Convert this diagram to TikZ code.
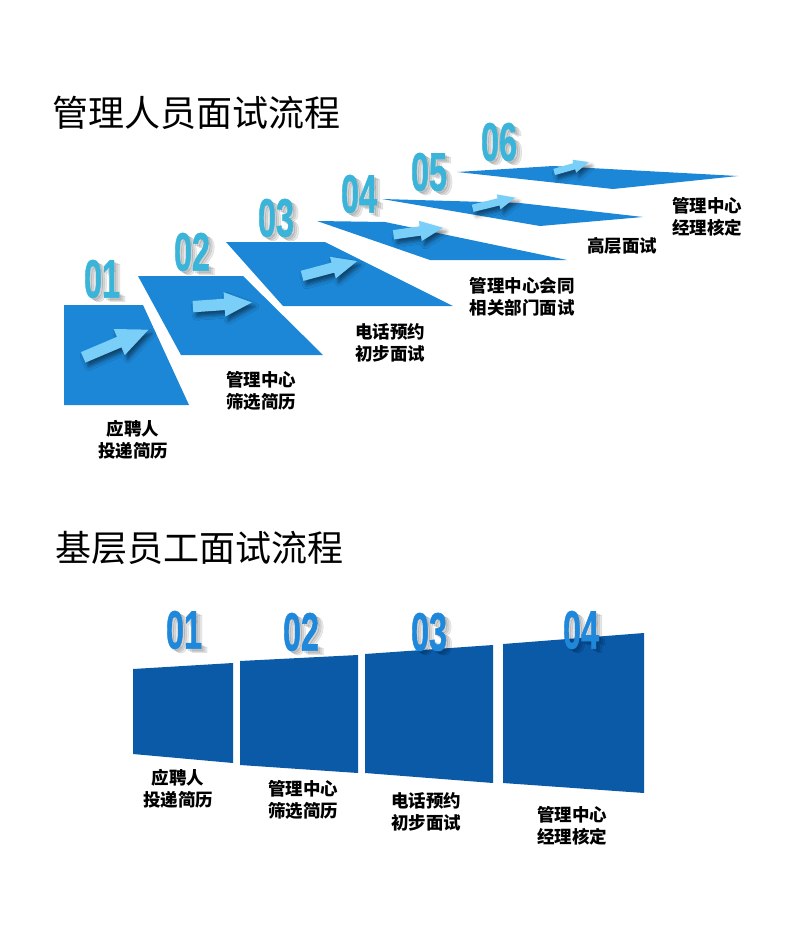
\documentclass[tikz,border=0pt]{standalone}
\usepackage{fontspec}
\usepackage{graphicx}
\setmainfont{Noto Sans CJK SC}
\newfontfamily\numfont[FakeBold=1.2]{Liberation Sans Bold}
\usetikzlibrary{shapes.arrows, shadows.blur}
\definecolor{cplate}{HTML}{1C87D7}
\definecolor{cplatedark}{HTML}{0A5AA8}
\definecolor{cnum}{HTML}{3AB4D8}
\definecolor{cnumdark}{HTML}{1F88DB}
\definecolor{carrow}{HTML}{7ACFF9}
\tikzset{
  every picture/.style={x=1pt, y=-1pt},
  plate/.style={fill=#1},
  plate/.default=cplate,
  title/.style={font=\fontsize{36}{40}\selectfont, anchor=west, inner sep=0pt},
  steptext/.style={font=\bfseries\fontsize{17.5}{22}\selectfont, align=center, inner sep=0pt},
  num/.style={font=\numfont\fontsize{54}{54}\selectfont, text=#1, inner sep=0pt},
  num/.default=cnum,
  numshade/.style={font=\numfont\fontsize{54}{54}\selectfont, text=black, opacity=0.09, inner sep=0pt},
  flowarrow/.style={single arrow, fill=carrow, inner xsep=0pt, single arrow head indent=0pt,
    single arrow tip angle=48,
    blur shadow={shadow xshift=3pt, shadow yshift=-4pt, shadow blur radius=4pt, shadow opacity=50}},
}
\newcommand{\nm}[1]{\scalebox{0.6}[1]{#1}}

\begin{document}
\begin{tikzpicture}
  \useasboundingbox (0,0) rectangle (800,950);
  % manager interview
  \node[title] (t1) at (52,113) {管理人员面试流程};
  \fill[plate] (64,305) -- (143,305) -- (189,405) -- (64,405) -- cycle;
  \fill[plate] (138,276) -- (243,276) -- (323,355) -- (181,355) -- cycle;
  \fill[plate] (226,242) -- (325,242) -- (453,306) -- (283,306) -- cycle;
  \fill[plate] (317,221) -- (385,222) -- (567,260) -- (430,260) -- cycle;
  \fill[plate] (382,199) -- (520,203) -- (643,217) -- (540,226) -- cycle;
  \fill[plate] (457,172) -- (553,166) -- (738,176) -- (613,189) -- cycle;
  \node[flowarrow, rotate=23, minimum height=71, minimum width=28, inner ysep=5.5, single arrow head extend=8.5] (a1) at (110,346) {};
  \node[flowarrow, rotate=4, minimum height=59, minimum width=24, inner ysep=5.5, single arrow head extend=6.5] (a2) at (216,305) {};
  \node[flowarrow, rotate=15, minimum height=57, minimum width=22, inner ysep=5, single arrow head extend=6] (a3) at (324,270) {};
  \node[flowarrow, rotate=8, minimum height=50, minimum width=20, inner ysep=4.5, single arrow head extend=5.5] (a4) at (413,232) {};
  \node[flowarrow, rotate=14, minimum height=44, minimum width=15, inner ysep=3.5, single arrow head extend=4] (a5) at (490,204) {};
  \node[flowarrow, rotate=16, minimum height=36, minimum width=13, inner ysep=3, single arrow head extend=3.5] (a6) at (568,168) {};
  % numbers, each with a soft shadow
  \node[numshade, xshift=2pt, yshift=-2pt] at (102,279) {\nm{01}};
  \node[numshade, xshift=4pt, yshift=-3pt] at (102,279) {\nm{01}};
  \node[numshade, xshift=6pt, yshift=-4pt] at (102,279) {\nm{01}};
  \node[num] (n1) at (102,279) {\nm{01}};
  \node[numshade, xshift=2pt, yshift=-2pt] at (192,252) {\nm{02}};
  \node[numshade, xshift=4pt, yshift=-3pt] at (192,252) {\nm{02}};
  \node[numshade, xshift=6pt, yshift=-4pt] at (192,252) {\nm{02}};
  \node[num] (n2) at (192,252) {\nm{02}};
  \node[numshade, xshift=2pt, yshift=-2pt] at (276,218) {\nm{03}};
  \node[numshade, xshift=4pt, yshift=-3pt] at (276,218) {\nm{03}};
  \node[numshade, xshift=6pt, yshift=-4pt] at (276,218) {\nm{03}};
  \node[num] (n3) at (276,218) {\nm{03}};
  \node[numshade, xshift=2pt, yshift=-2pt] at (359,194) {\nm{04}};
  \node[numshade, xshift=4pt, yshift=-3pt] at (359,194) {\nm{04}};
  \node[numshade, xshift=6pt, yshift=-4pt] at (359,194) {\nm{04}};
  \node[num] (n4) at (359,194) {\nm{04}};
  \node[numshade, xshift=2pt, yshift=-2pt] at (429,172) {\nm{05}};
  \node[numshade, xshift=4pt, yshift=-3pt] at (429,172) {\nm{05}};
  \node[numshade, xshift=6pt, yshift=-4pt] at (429,172) {\nm{05}};
  \node[num] (n5) at (429,172) {\nm{05}};
  \node[numshade, xshift=2pt, yshift=-2pt] at (499,142) {\nm{06}};
  \node[numshade, xshift=4pt, yshift=-3pt] at (499,142) {\nm{06}};
  \node[numshade, xshift=6pt, yshift=-4pt] at (499,142) {\nm{06}};
  \node[num] (n6) at (499,142) {\nm{06}};
  \node[steptext] (s1) at (133,440) {应聘人\\投递简历};
  \node[steptext] (s2) at (261,391) {管理中心\\筛选简历};
  \node[steptext] (s3) at (390,343) {电话预约\\初步面试};
  \node[steptext] (s4) at (522,297) {管理中心会同\\相关部门面试};
  \node[steptext] (s5) at (622,246) {高层面试};
  \node[steptext] (s6) at (707,217) {管理中心\\经理核定};
  % staff interview
  \node[title] (t2) at (55,548) {基层员工面试流程};
  \fill[plate=cplatedark] (133,669) -- (233,663) -- (233,763) -- (133,754) -- cycle;
  \fill[plate=cplatedark] (240,661) -- (358,655) -- (358,773) -- (240,765) -- cycle;
  \fill[plate=cplatedark] (365,654) -- (493,645) -- (493,783) -- (365,773) -- cycle;
  \fill[plate=cplatedark] (503,644) -- (644,633) -- (644,793) -- (503,783) -- cycle;
  \node[numshade, xshift=2pt, yshift=-2pt] at (184,630) {\nm{01}};
  \node[numshade, xshift=4pt, yshift=-3pt] at (184,630) {\nm{01}};
  \node[numshade, xshift=6pt, yshift=-4pt] at (184,630) {\nm{01}};
  \node[num=cnumdark] (m1) at (184,630) {\nm{01}};
  \node[numshade, xshift=2pt, yshift=-2pt] at (301,632) {\nm{02}};
  \node[numshade, xshift=4pt, yshift=-3pt] at (301,632) {\nm{02}};
  \node[numshade, xshift=6pt, yshift=-4pt] at (301,632) {\nm{02}};
  \node[num=cnumdark] (m2) at (301,632) {\nm{02}};
  \node[numshade, xshift=2pt, yshift=-2pt] at (429,632) {\nm{03}};
  \node[numshade, xshift=4pt, yshift=-3pt] at (429,632) {\nm{03}};
  \node[numshade, xshift=6pt, yshift=-4pt] at (429,632) {\nm{03}};
  \node[num=cnumdark] (m3) at (429,632) {\nm{03}};
  \node[numshade, xshift=2pt, yshift=-2pt] at (581,630) {\nm{04}};
  \node[numshade, xshift=4pt, yshift=-3pt] at (581,630) {\nm{04}};
  \node[numshade, xshift=6pt, yshift=-4pt] at (581,630) {\nm{04}};
  \node[num=cnumdark] (m4) at (581,630) {\nm{04}};
  \node[steptext] (b1) at (178,789) {应聘人\\投递简历};
  \node[steptext] (b2) at (303,800) {管理中心\\筛选简历};
  \node[steptext] (b3) at (426,812) {电话预约\\初步面试};
  \node[steptext] (b4) at (572,826) {管理中心\\经理核定};
\end{tikzpicture}
\end{document}
